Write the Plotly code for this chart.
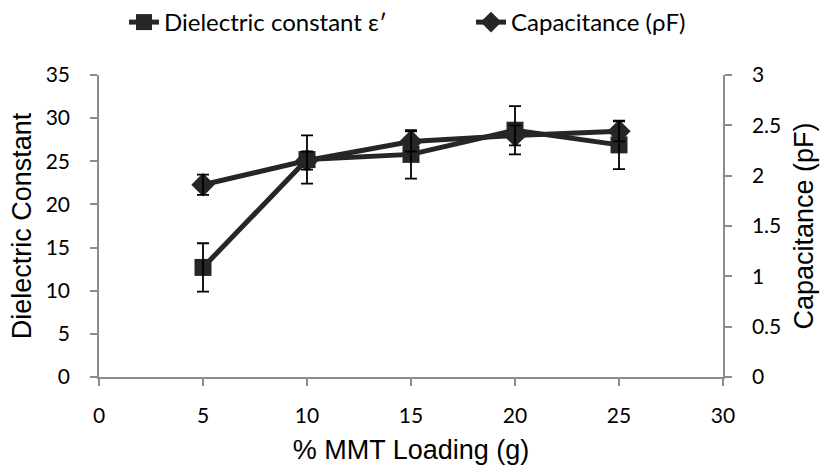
import plotly.graph_objects as go

loading = [5, 10, 15, 20, 25]
dielectric = [12.7, 25.2, 25.8, 28.6, 26.9]
dielectric_err = [2.8, 2.8, 2.8, 2.8, 2.8]
capacitance = [1.91, 2.15, 2.34, 2.40, 2.44]
capacitance_err = [0.10, 0.09, 0.10, 0.10, 0.10]

x_ticks = [0, 5, 10, 15, 20, 25, 30]
y1_ticks = [0, 5, 10, 15, 20, 25, 30, 35]
y2_ticks = [0, 0.5, 1, 1.5, 2, 2.5, 3]

LINE = "#262626"
AXIS = "#8c8c8c"
TICKFONT = dict(family="Lato, Open Sans, sans-serif", size=21, color="#000")
TITLEFONT = dict(family="Liberation Sans, Arial, sans-serif", size=27, color="#000")
LEGFONT = dict(family="Lato, Open Sans, sans-serif", size=24, color="#000")

fig = go.Figure()

fig.add_trace(go.Scatter(
    x=loading, y=dielectric, mode="lines+markers", name="Dielectric constant ε′",
    line=dict(color=LINE, width=5),
    marker=dict(symbol="square", size=17, color=LINE),
    yaxis="y", legend="legend",
))
fig.add_trace(go.Scatter(
    x=loading, y=capacitance, mode="lines+markers", name="Capacitance (ρF)",
    line=dict(color=LINE, width=5),
    marker=dict(symbol="diamond", size=18, color=LINE),
    yaxis="y2", legend="legend2",
))
# error bars drawn on top
fig.add_trace(go.Scatter(
    x=loading, y=dielectric, mode="markers", showlegend=False, hoverinfo="skip",
    marker=dict(size=1, opacity=0),
    error_y=dict(type="data", array=dielectric_err, color="#000", thickness=1.8, width=6),
    yaxis="y",
))
fig.add_trace(go.Scatter(
    x=loading, y=capacitance, mode="markers", showlegend=False, hoverinfo="skip",
    marker=dict(size=1, opacity=0),
    error_y=dict(type="data", array=capacitance_err, color="#000", thickness=1.8, width=6),
    yaxis="y2",
))

axis_common = dict(
    showgrid=False, zeroline=False, showline=True, linecolor=AXIS, linewidth=1.5,
    ticks="outside", ticklen=7, tickcolor=AXIS, tickwidth=1.5,
    tickfont=TICKFONT,
)

fig.update_layout(
    width=825, height=470,
    margin=dict(l=99, r=102, t=75, b=93, autoexpand=False),
    paper_bgcolor="white", plot_bgcolor="white",
    showlegend=True,
    legend=dict(orientation="h", xref="container", x=124 / 825, xanchor="left",
                yref="container", y=1.0, yanchor="top", font=LEGFONT),
    legend2=dict(orientation="h", xref="container", x=471 / 825, xanchor="left",
                 yref="container", y=1.0, yanchor="top", font=LEGFONT),
    xaxis=dict(
        range=[0, 30], tickvals=x_ticks, ticktext=[str(v) for v in x_ticks],
        ticklabelstandoff=12,
        title=dict(text="% MMT Loading (g)", font=TITLEFONT, standoff=14),
        **axis_common,
    ),
    yaxis=dict(
        range=[0, 35], tickvals=y1_ticks, ticktext=[str(v) for v in y1_ticks],
        ticklabelstandoff=16,
        title=dict(text="Dielectric Constant", font=TITLEFONT, standoff=6),
        **axis_common,
    ),
    yaxis2=dict(
        range=[0, 3], tickvals=y2_ticks, ticktext=[str(v) for v in y2_ticks],
        overlaying="y", side="right",
        ticklabelstandoff=16,
        title=dict(text="Capacitance (pF)", font=TITLEFONT, standoff=14),
        **axis_common,
    ),
)

fig.write_html("out.html")
